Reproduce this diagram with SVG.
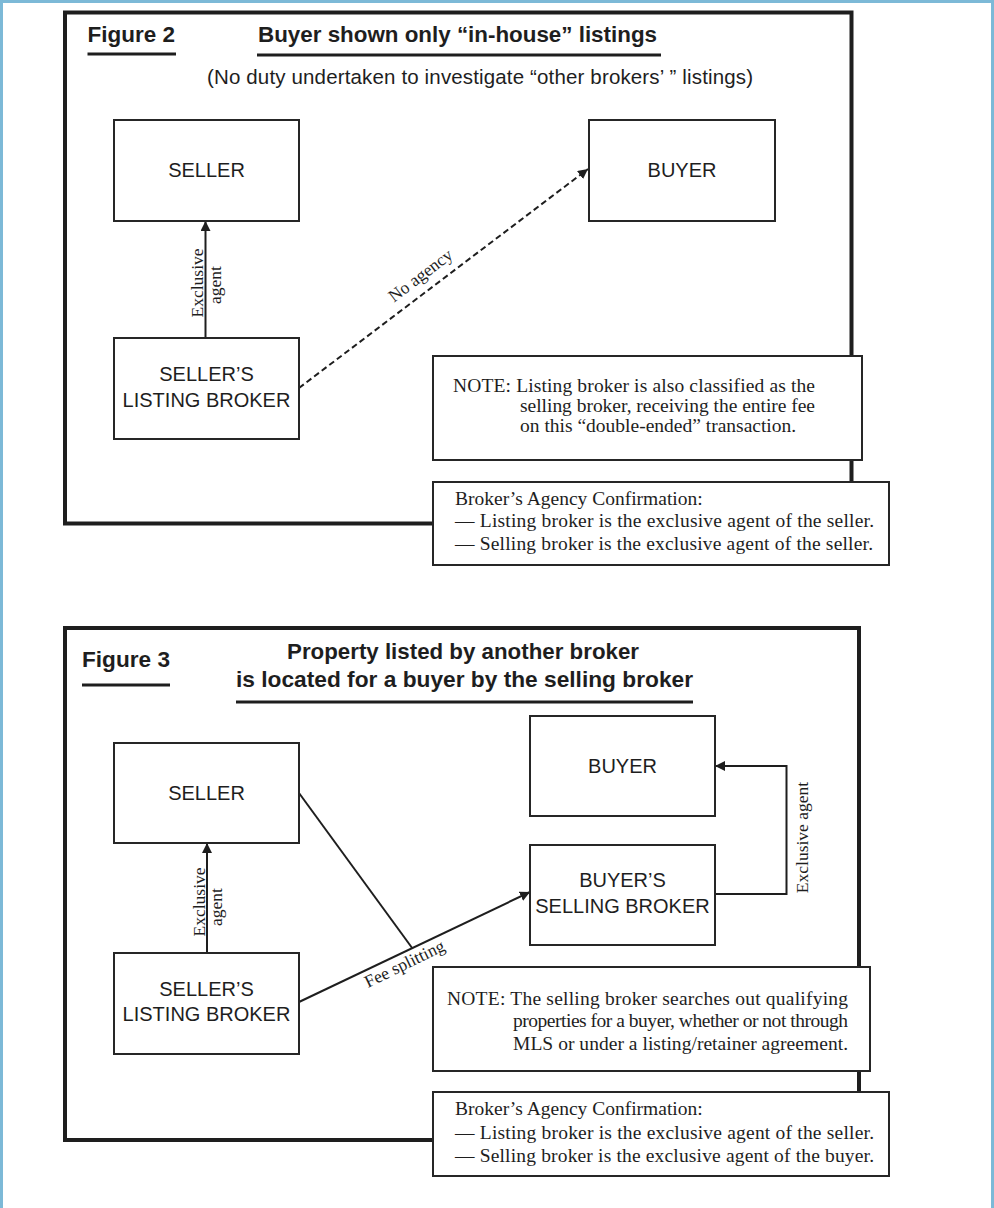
<svg xmlns="http://www.w3.org/2000/svg" width="994" height="1208" viewBox="0 0 994 1208">
<style>
.bg{fill:#ffffff;stroke:#7cb9d7;stroke-width:3}
.frame{fill:none;stroke:#1e1e1e;stroke-width:4}
.box{fill:#ffffff;stroke:#262626;stroke-width:2}
.ln{fill:none;stroke:#1e1e1e;stroke-width:2}
.dash{fill:none;stroke:#1e1e1e;stroke-width:2;stroke-dasharray:6 3.5}
.ul{stroke:#1e1e1e;stroke-width:3}
.sans{font-family:"Liberation Sans",Arial,sans-serif;fill:#1e1e1e}
.node{font-size:20px;text-anchor:middle}
.ttl{font-size:21.5px;font-weight:bold}
.serif{font-family:"Liberation Serif","Times New Roman",serif;fill:#1e1e1e}
.lbl{font-size:17.5px;text-anchor:middle}
.note{font-size:19.5px}
</style>
<defs>
<marker id="ah" viewBox="0 0 10 10" refX="10" refY="5" markerWidth="10" markerHeight="10" markerUnits="userSpaceOnUse" orient="auto">
<path d="M0,0 L10,5 L0,10 z" fill="#1e1e1e"/>
</marker>
</defs>
<rect class="bg" x="1.5" y="1.5" width="991" height="1300"/>

<!-- Figure 2 -->
<g id="fig2-frame">
<path class="frame" d="M433,523.5 L65,523.5 L65,12.5 L851.5,12.5 L851.5,482"/>
<text class="sans ttl" x="87.5" y="41.5" textLength="87.5" lengthAdjust="spacingAndGlyphs">Figure 2</text>
<line class="ul" x1="87.5" y1="54" x2="176" y2="54"/>
<text class="sans ttl" x="258" y="41.5" textLength="399" lengthAdjust="spacingAndGlyphs">Buyer shown only “in-house” listings</text>
<line class="ul" x1="257" y1="55" x2="661" y2="55"/>
<text class="sans" x="207" y="84" font-size="20.5" textLength="546">(No duty undertaken to investigate “other brokers’ ” listings)</text>
</g>
<g id="fig2-connectors">
<line class="ln" x1="205.5" y1="338" x2="205.5" y2="221" marker-end="url(#ah)"/>
<line class="dash" x1="299" y1="388" x2="588" y2="169" marker-end="url(#ah)"/>
<text class="serif lbl" transform="translate(203,283) rotate(-90)">Exclusive</text>
<text class="serif lbl" transform="translate(220.5,285) rotate(-90)">agent</text>
<text class="serif lbl" font-size="18" transform="translate(424,280) rotate(-37.2)">No agency</text>
</g>
<g id="fig2-seller">
<rect class="box" x="114" y="120" width="185" height="101"/>
<text class="sans node" x="206.5" y="177">SELLER</text>
</g>
<g id="fig2-buyer">
<rect class="box" x="589" y="120" width="186" height="101"/>
<text class="sans node" x="682" y="177">BUYER</text>
</g>
<g id="fig2-listing-broker">
<rect class="box" x="114" y="338" width="185" height="101"/>
<text class="sans node" x="206.5" y="381">SELLER’S</text>
<text class="sans node" x="206.5" y="406.5">LISTING BROKER</text>
</g>
<g id="fig2-note">
<rect class="box" x="433" y="356" width="429" height="104"/>
<text class="serif note" x="453" y="392" textLength="362">NOTE: Listing broker is also classified as the</text>
<text class="serif note" x="520" y="412" textLength="295">selling broker, receiving the entire fee</text>
<text class="serif note" x="520" y="432">on this “double-ended” transaction.</text>
</g>
<g id="fig2-confirmation">
<rect class="box" x="433" y="482" width="456" height="83"/>
<text class="serif note" x="455" y="504.5">Broker’s Agency Confirmation:</text>
<text class="serif note" x="455" y="527" textLength="419">— Listing broker is the exclusive agent of the seller.</text>
<text class="serif note" x="455" y="550" textLength="418">— Selling broker is the exclusive agent of the seller.</text>
</g>

<!-- Figure 3 -->
<g id="fig3-frame">
<path class="frame" d="M433,1140 L65,1140 L65,628 L859,628 L859,1092"/>
<text class="sans ttl" x="82" y="667" textLength="88" lengthAdjust="spacingAndGlyphs">Figure 3</text>
<line class="ul" x1="82" y1="685" x2="170" y2="685"/>
<text class="sans ttl" x="287" y="659" textLength="352" lengthAdjust="spacingAndGlyphs">Property listed by another broker</text>
<text class="sans ttl" x="236" y="687" textLength="457" lengthAdjust="spacingAndGlyphs">is located for a buyer by the selling broker</text>
<line class="ul" x1="236" y1="702" x2="693" y2="702"/>
</g>
<g id="fig3-connectors">
<line class="ln" x1="207" y1="953" x2="207" y2="843" marker-end="url(#ah)"/>
<line class="ln" x1="299" y1="793" x2="412.5" y2="948.5"/>
<line class="ln" x1="299" y1="1002" x2="530" y2="892" marker-end="url(#ah)"/>
<polyline class="ln" points="715,894 786.5,894 786.5,766 715,766" marker-end="url(#ah)"/>
<text class="serif lbl" transform="translate(205,902) rotate(-90)">Exclusive</text>
<text class="serif lbl" transform="translate(222,907) rotate(-90)">agent</text>
<text class="serif lbl" transform="translate(807.5,837.5) rotate(-90)">Exclusive agent</text>
<text class="serif lbl" transform="translate(407,969) rotate(-26)">Fee splitting</text>
</g>
<g id="fig3-seller">
<rect class="box" x="114" y="743" width="185" height="100"/>
<text class="sans node" x="206.5" y="800">SELLER</text>
</g>
<g id="fig3-buyer">
<rect class="box" x="530" y="716" width="185" height="100"/>
<text class="sans node" x="622.5" y="773">BUYER</text>
</g>
<g id="fig3-selling-broker">
<rect class="box" x="530" y="845" width="185" height="100"/>
<text class="sans node" x="622.5" y="887">BUYER’S</text>
<text class="sans node" x="622.5" y="913">SELLING BROKER</text>
</g>
<g id="fig3-listing-broker">
<rect class="box" x="114" y="953" width="185" height="101"/>
<text class="sans node" x="206.5" y="996">SELLER’S</text>
<text class="sans node" x="206.5" y="1021">LISTING BROKER</text>
</g>
<g id="fig3-note">
<rect class="box" x="433" y="967" width="437" height="104"/>
<text class="serif note" x="447" y="1005" textLength="401">NOTE: The selling broker searches out qualifying</text>
<text class="serif note" x="513" y="1027" textLength="335">properties for a buyer, whether or not through</text>
<text class="serif note" x="513" y="1050" textLength="335">MLS or under a listing/retainer agreement.</text>
</g>
<g id="fig3-confirmation">
<rect class="box" x="433" y="1092" width="456" height="84"/>
<text class="serif note" x="455" y="1115">Broker’s Agency Confirmation:</text>
<text class="serif note" x="455" y="1139" textLength="419">— Listing broker is the exclusive agent of the seller.</text>
<text class="serif note" x="455" y="1162" textLength="419">— Selling broker is the exclusive agent of the buyer.</text>
</g>
</svg>
